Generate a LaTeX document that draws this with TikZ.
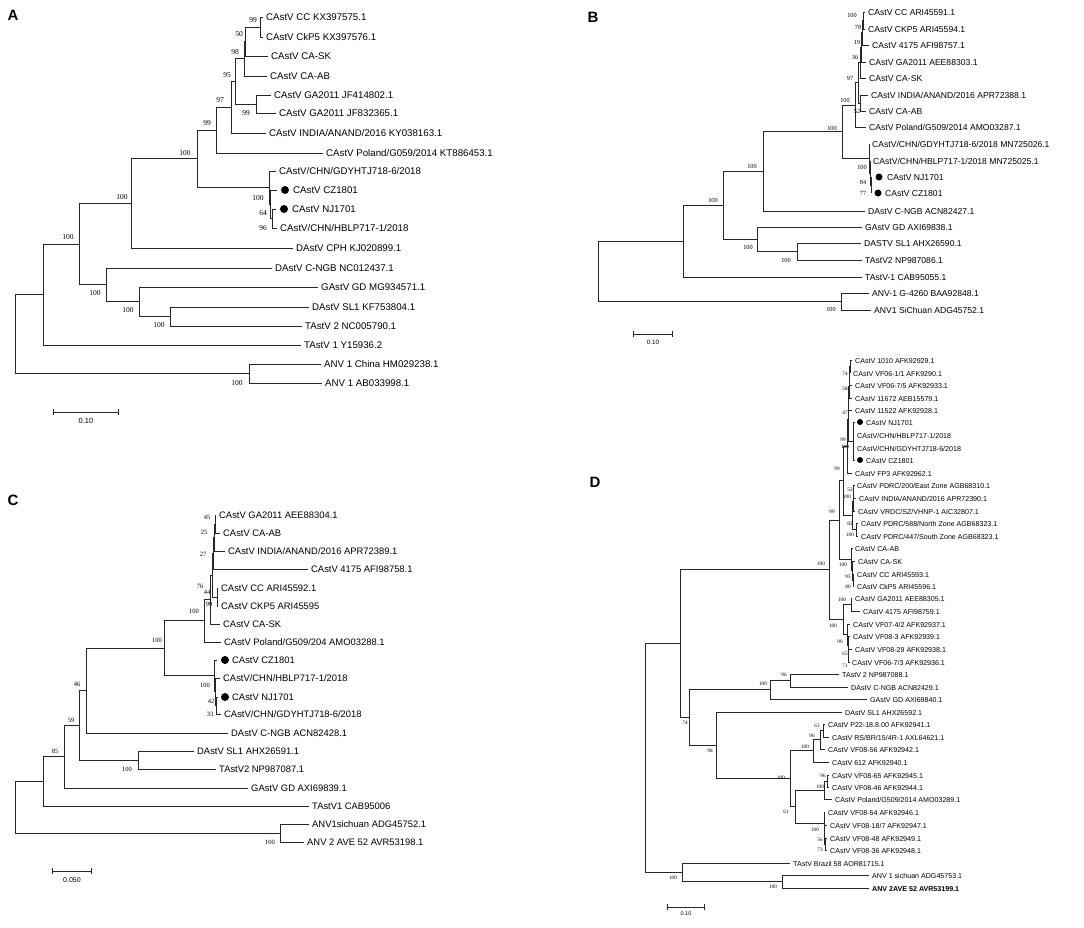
\documentclass[tikz,border=0pt]{standalone}
\usepackage{fontspec}
\setmainfont{Liberation Sans}
\newfontfamily\bsfont{Liberation Serif}
\usetikzlibrary{arrows.meta}

\tikzset{
  br/.style={draw=black!85, line width=1pt},
  nd/.style={inner sep=0pt, outer sep=0pt, minimum size=0pt},
  lf/.style={anchor=west, inner xsep=3pt, inner ysep=0pt, text height=1.4ex, text depth=0pt},
  lfA/.style={lf, font=\fontsize{9.7}{10}\selectfont},
  lfB/.style={lf, font=\fontsize{8.6}{9}\selectfont},
  lfC/.style={lf, font=\fontsize{9.4}{10}\selectfont},
  lfD/.style={lf, font=\fontsize{7.1}{8}\selectfont},
  bs/.style={inner sep=0pt, font=\bsfont\fontsize{#1}{#1}\selectfont},
  spot/.style={circle, fill=black, inner sep=0pt, minimum size=#1},
  panel/.style={inner sep=0pt, font=\fontsize{15}{15}\selectfont\bfseries},
  bar/.style={draw=black!85, line width=1pt, {Bar[width=6pt]}-{Bar[width=6pt]}},
  barlbl/.style={inner sep=0pt, font=\fontsize{#1}{#1}\selectfont}
}

\begin{document}
\begin{tikzpicture}[x=1pt, y=-1pt]
  \fill[white] (0,0) rectangle (1084,927);
  \useasboundingbox (0,0) rectangle (1084,927);

  % ---------- Panel A ----------
  \node[panel] (pA) at (13,15) {A};
  \foreach \n/\x/\y in {a99/260/27, a50/245/41.5, a98/244/58.8, aGA/256/104, a95/235/81.4,
      a97/231/107.2, a99b/216/130.1, a64/272/218.5, a100c/270/204.3, aCHN/269/187.6,
      a100/197/158.9, a131/131/203.4, aSL/170/316.5, aGD/139/301.8, aNGB/106/284.9,
      a79/79/244.1, a43/43/294.6, aANV/249/373.5, aroot/15/334}
    \node[nd] (\n) at (\x,\y) {};

  \node[lfA] (aCC) at (263,17) {CAstV CC KX397575.1};
  \node[lfA] (aCK) at (263,37) {CAstV CkP5 KX397576.1};
  \node[lfA] (aSK) at (268,56) {CAstV CA-SK};
  \node[lfA] (aAB) at (267,76) {CAstV CA-AB};
  \node[lfA] (aGA1) at (271,95) {CAstV GA2011 JF414802.1};
  \node[lfA] (aGA2) at (276,113) {CAstV GA2011 JF832365.1};
  \node[lfA] (aIN) at (266,133) {CAstV INDIA/ANAND/2016 KY038163.1};
  \node[lfA] (aPL) at (323,153) {CAstV Poland/G059/2014 KT886453.1};
  \node[lfA] (aGDY) at (276,171) {CAstV/CHN/GDYHTJ718-6/2018};
  \node[spot=8pt, outer sep=4pt] (aCZ) at (285,190) {};
  \node[lfA] (aCZt) at (290,190) {CAstV CZ1801};
  \node[spot=8pt, outer sep=4pt] (aNJ) at (284,209) {};
  \node[lfA] (aNJt) at (289,209) {CAstV NJ1701};
  \node[lfA] (aHB) at (277,228) {CAstV/CHN/HBLP717-1/2018};
  \node[lfA] (aCPH) at (293,248) {DAstV CPH KJ020899.1};
  \node[lfA] (aCNGB) at (272,268) {DAstV C-NGB NC012437.1};
  \node[lfA] (aGAstV) at (318,287) {GAstV GD MG934571.1};
  \node[lfA] (aSL1) at (309,307) {DAstV SL1 KF753804.1};
  \node[lfA] (aT2) at (302,326) {TAstV 2 NC005790.1};
  \node[lfA] (aT1) at (301,345) {TAstV 1 Y15936.2};
  \node[lfA] (aANV1) at (321,364) {ANV 1 China HM029238.1};
  \node[lfA] (aANV2) at (322,383) {ANV 1 AB033998.1};

  \foreach \p/\c in {a99/aCC, a99/aCK, a50/a99, a50/aSK, a98/a50, a98/aAB, aGA/aGA1, aGA/aGA2,
      a95/a98, a95/aGA, a97/a95, a97/aIN, a99b/a97, a99b/aPL, a64/aNJ, a64/aHB, a100c/aCZ,
      a100c/a64, aCHN/aGDY, aCHN/a100c, a100/a99b, a100/aCHN, a131/a100, a131/aCPH,
      aSL/aSL1, aSL/aT2, aGD/aGAstV, aGD/aSL, aNGB/aCNGB, aNGB/aGD, a79/a131, a79/aNGB,
      a43/a79, a43/aT1, aANV/aANV1, aANV/aANV2, aroot/a43, aroot/aANV}
    \draw[br] (\p) |- (\c.west);

  \foreach \x/\y/\t [count=\i] in {253/20/99, 239/34/50, 235/52/98, 227/75/95, 220/100/97,
      246/113/99, 207/123/99, 185/153/100, 258/198/100, 263/213/64, 263/228/96, 122/197/100,
      68/237/100, 95/293/100, 128/310/100, 159/325/100, 237/383/100}
    \node[bs=7.5] (bsA\i) at (\x,\y) {\t};

  \coordinate (sA1) at (53,412);
  \coordinate (sA2) at (119,412);
  \draw[bar] (sA1) -- (sA2);
  \node[barlbl=7.5] (sAt) at (86,421) {0.10};

  % ---------- Panel B ----------
  \node[panel] (pB) at (593,17) {B};
  \foreach \n/\x/\y in {bn1/863/20.5, bn2/862/32.8, bn3/861/47.4, bn4/860/62.7, bn5/860/103,
      bn6/858/82.9, bn7/855/105, bn84/871/185, bnH/870/173, bnC/869/158.5, bn8/842/131.8,
      bn9/763/171.4, bSL/797/251.5, bGD/757/239.3, bn10/723/205.3, bn11/683/241.2,
      bANV/841/301.5, broot/598/271.3}
    \node[nd] (\n) at (\x,\y) {};

  \node[lfB] (bCC) at (865,12) {CAstV CC ARI45591.1};
  \node[lfB] (bCK) at (865,29) {CAstV CKP5 ARI45594.1};
  \node[lfB] (b4175) at (869,45) {CAstV 4175 AFI98757.1};
  \node[lfB] (bGA) at (866,62) {CAstV GA2011 AEE88303.1};
  \node[lfB] (bSK) at (866,78) {CAstV CA-SK};
  \node[lfB] (bIN) at (868,95) {CAstV INDIA/ANAND/2016 APR72388.1};
  \node[lfB] (bAB) at (866,111) {CAstV CA-AB};
  \node[lfB] (bPL) at (866,127) {CAstV Poland/G509/2014 AMO03287.1};
  \node[lfB] (bGDY) at (869,144) {CAstV/CHN/GDYHTJ718-6/2018 MN725026.1};
  \node[lfB] (bHB) at (870,161) {CAstV/CHN/HBLP717-1/2018 MN725025.1};
  \node[spot=7pt, outer sep=3.5pt] (bNJ) at (879,177) {};
  \node[lfB] (bNJt) at (884,177) {CAstV NJ1701};
  \node[spot=7pt, outer sep=3.5pt] (bCZ) at (878,193) {};
  \node[lfB] (bCZt) at (882,193) {CAstV CZ1801};
  \node[lfB] (bNGB) at (865,211) {DAstV C-NGB ACN82427.1};
  \node[lfB] (bGAstV) at (862,227) {GAstV GD AXI69838.1};
  \node[lfB] (bSL1) at (861,243) {DASTV SL1 AHX26590.1};
  \node[lfB] (bT2) at (862,260) {TAstV2 NP987086.1};
  \node[lfB] (bT1) at (862,277) {TAstV-1 CAB95055.1};
  \node[lfB] (bANV1) at (869,293) {ANV-1 G-4260 BAA92848.1};
  \node[lfB] (bANV2) at (871,310) {ANV1 SiChuan ADG45752.1};

  \foreach \p/\c in {bn1/bCC, bn1/bCK, bn2/bn1, bn2/b4175, bn3/bn2, bn3/bGA, bn4/bn3, bn4/bSK,
      bn5/bIN, bn5/bAB, bn6/bn4, bn6/bn5, bn7/bn6, bn7/bPL, bn84/bNJ, bn84/bCZ, bnH/bHB,
      bnH/bn84, bnC/bGDY, bnC/bnH, bn8/bn7, bn8/bnC, bn9/bn8, bn9/bNGB, bSL/bSL1, bSL/bT2,
      bGD/bGAstV, bGD/bSL, bn10/bn9, bn10/bGD, bn11/bn10, bn11/bT1, bANV/bANV1, bANV/bANV2,
      broot/bn11, broot/bANV}
    \draw[br] (\p) |- (\c.west);

  \foreach \x/\y/\t [count=\i] in {852/15/100, 858/27/78, 857/42/19, 855/57/36, 850/78/97,
      845/100/100, 857/111/52, 832/128/100, 862/167/100, 863/182/84, 863/193/77, 752/166/100,
      713/200/100, 748/247/100, 786/260/100, 831/309/100}
    \node[bs=6.3] (bsB\i) at (\x,\y) {\t};

  \coordinate (sB1) at (633,334);
  \coordinate (sB2) at (673,334);
  \draw[bar] (sB1) -- (sB2);
  \node[barlbl=6.3] (sBt) at (653,342) {0.10};

  % ---------- Panel C ----------
  \node[panel] (pC) at (13,500) {C};
  \foreach \n/\x/\y in {c45/215/524, c25/214/537.5, c27/213/553.3, c99/217/597, c44/212/575.1,
      c76/210/599.6, c100a/204/620.8, c33/216.5/705.5, c42/215.5/691.8, c100b/214/675.9,
      c100c/164/648.3, c86/86/690.7, cSL/138/760, c79/79/725.3, c64/64/756.7, c43/43/781.3,
      cANV/280/833, croot/15/807.2}
    \node[nd] (\n) at (\x,\y) {};

  \node[lfC] (cGA) at (216,515) {CAstV GA2011 AEE88304.1};
  \node[lfC] (cAB) at (220,533) {CAstV CA-AB};
  \node[lfC] (cIN) at (225,551) {CAstV INDIA/ANAND/2016 APR72389.1};
  \node[lfC] (c4175) at (308,569) {CAstV 4175 AFI98758.1};
  \node[lfC] (cCC) at (218,588) {CAstV CC ARI45592.1};
  \node[lfC] (cCK) at (218,606) {CAstV CKP5 ARI45595};
  \node[lfC] (cSK) at (220,624) {CAstV CA-SK};
  \node[lfC] (cPL) at (221,642) {CAstV Poland/G509/204 AMO03288.1};
  \node[spot=8pt, outer sep=4pt] (cCZ) at (225,660) {};
  \node[lfC] (cCZt) at (229,660) {CAstV CZ1801};
  \node[lfC] (cHB) at (220,678) {CAstV/CHN/HBLP717-1/2018};
  \node[spot=8pt, outer sep=4pt] (cNJ) at (225,697) {};
  \node[lfC] (cNJt) at (229,697) {CAstV NJ1701};
  \node[lfC] (cGDY) at (221,714) {CAstV/CHN/GDYHTJ718-6/2018};
  \node[lfC] (cNGB) at (228,733) {DAstV C-NGB ACN82428.1};
  \node[lfC] (cSL1) at (194,751) {DAstV SL1 AHX26591.1};
  \node[lfC] (cT2) at (216,769) {TAstV2 NP987087.1};
  \node[lfC] (cGD) at (248,788) {GAstV GD AXI69839.1};
  \node[lfC] (cT1) at (309,806) {TAstV1 CAB95006};
  \node[lfC] (cANV1) at (309,824) {ANV1sichuan ADG45752.1};
  \node[lfC] (cANV2) at (304,842) {ANV 2 AVE 52 AVR53198.1};

  \foreach \p/\c in {c45/cGA, c45/cAB, c25/c45, c25/cIN, c27/c25, c27/c4175, c99/cCC, c99/cCK,
      c44/c27, c44/c99, c76/c44, c76/cSK, c100a/c76, c100a/cPL, c33/cNJ, c33/cGDY, c42/cHB,
      c42/c33, c100b/cCZ, c100b/c42, c100c/c100a, c100c/c100b, c86/c100c, c86/cNGB,
      cSL/cSL1, cSL/cT2, c79/c86, c79/cSL, c64/c79, c64/cGD, c43/c64, c43/cT1,
      cANV/cANV1, cANV/cANV2, croot/c43, croot/cANV}
    \draw[br] (\p) |- (\c.west);

  \foreach \x/\y/\t [count=\i] in {207/517/45, 204/532/25, 203/554/27, 200/586/76, 207/592/44,
      209/604/99, 194/611/100, 157/640/100, 205/685/100, 211/701/42, 210/714/33, 77/684/46,
      71/720/59, 55/751/85, 127/769/100, 270/842/100}
    \node[bs=6.5] (bsC\i) at (\x,\y) {\t};

  \coordinate (sC1) at (52,871);
  \coordinate (sC2) at (92,871);
  \draw[bar] (sC1) -- (sC2);
  \node[barlbl=7] (sCt) at (72,880) {0.050};

  % ---------- Panel D ----------
  \node[panel] (pD) at (595,482) {D};
  \foreach \n/\x/\y in {dU74/850/366.5, dU58/849.5/375.8, dU58b/849/386.9, dU47/848.5/398.4,
      dUchn/853/441, dU99/848/419.7, dU100/847/446.4, dP52/853.5/491.5, dP100/853/501.3,
      dP82/856/529.5, dPP/852/515.4, dUP/843/480.9, dC80/853/580, dC95/852.5/570.5,
      dC100/851.5/559.3, dN1/839/520.1, dNga/851/604.5, dN71/848.5/655.5, dN65/848/645.8,
      dN99/847.5/634.9, dN2/843/619.7, dM/829/569.9, dN96/790/680.5, dN100g/770/689.8,
      dQ63/823/730.5, dQ96/820/739.8, dQ100/813/750.9, dR96/827/781, dR100/824/790,
      dS73/825/844, dS56/824.5/834.5, dS100/824/823.3, dV6/795/806.6, dX/790/778.8,
      dV4/716/745.4, dV3/689/717.6, dV2/680/643.8, dV8/782/881.5, dV7/682/872.3, droot/645/758}
    \node[nd] (\n) at (\x,\y) {};

  \node[lfD] (d1010) at (852,360) {CAstV 1010 AFK92929.1};
  \node[lfD] (dVF11) at (850,373) {CAstV VF06-1/1 AFK9290.1};
  \node[lfD] (dVF75) at (852,385) {CAstV VF06-7/5 AFK92933.1};
  \node[lfD] (d11672) at (852,398) {CAstV 11672 AEB15579.1};
  \node[lfD] (d11522) at (852,410) {CAstV 11522 AFK92928.1};
  \node[spot=6pt, outer sep=2.5pt] (dNJ) at (860,422) {};
  \node[lfD] (dNJt) at (863,422) {CAstV NJ1701};
  \node[lfD] (dHB) at (854,435) {CAstV/CHN/HBLP717-1/2018};
  \node[lfD] (dGDY) at (854,448) {CAstV/CHN/GDYHTJ718-6/2018};
  \node[spot=6pt, outer sep=2.5pt] (dCZ) at (860,460) {};
  \node[lfD] (dCZt) at (863,460) {CAstV CZ1801};
  \node[lfD] (dFP3) at (852,473) {CAstV FP3 AFK92962.1};
  \node[lfD] (dP200) at (854,485) {CAstV PDRC/200/East Zone AGB68310.1};
  \node[lfD] (dIN) at (856,498) {CAstV INDIA/ANAND/2016 APR72390.1};
  \node[lfD] (dVR) at (855,511) {CAstV VRDC/SZ/VHNP-1 AIC32807.1};
  \node[lfD] (dP588) at (858,523) {CAstV PDRC/588/North Zone AGB68323.1};
  \node[lfD] (dP447) at (858,536) {CAstV PDRC/447/South Zone AGB68323.1};
  \node[lfD] (dAB) at (852,548) {CAstV CA-AB};
  \node[lfD] (dSK) at (855,561) {CAstV CA-SK};
  \node[lfD] (dCC) at (854,574) {CAstV CC ARI45593.1};
  \node[lfD] (dCK) at (854,586) {CAstV CkP5 ARI45596.1};
  \node[lfD] (dGA) at (852,598) {CAstV GA2011 AEE88305.1};
  \node[lfD] (d4175) at (860,611) {CAstV 4175 AFI98759.1};
  \node[lfD] (dVF742) at (850,624) {CAstV VF07-4/2 AFK92937.1};
  \node[lfD] (dVF83) at (850,636) {CAstV VF08-3 AFK92939.1};
  \node[lfD] (dVF829) at (852,649) {CAstV VF08-29 AFK92938.1};
  \node[lfD] (dVF73) at (849,662) {CAstV VF06-7/3 AFK92936.1};
  \node[lfD] (dT2) at (839,674) {TAstV 2 NP987088.1};
  \node[lfD] (dNGB) at (848,687) {DAstV C-NGB ACN82429.1};
  \node[lfD] (dGD) at (867,699) {GAstV GD AXI69840.1};
  \node[lfD] (dSL1) at (842,712) {DAstV SL1 AHX26592.1};
  \node[lfD] (dP22) at (825,724) {CAstV P22-18.8.00 AFK92941.1};
  \node[lfD] (dRS) at (829,737) {CAstV RS/BR/15/4R-1 AXL64621.1};
  \node[lfD] (dVF856) at (825,749) {CAstV VF08-56 AFK92942.1};
  \node[lfD] (d612) at (829,762) {CAstV 612 AFK92940.1};
  \node[lfD] (dVF865) at (829,775) {CAstV VF08-65 AFK92945.1};
  \node[lfD] (dVF846) at (829,787) {CAstV VF08-46 AFK92944.1};
  \node[lfD] (dPL) at (832,799) {CAstV Poland/G509/2014 AMO03289.1};
  \node[lfD] (dVF854) at (825,812) {CAstV VF08-54 AFK92946.1};
  \node[lfD] (dVF187) at (827,825) {CAstV VF08-18/7 AFK92947.1};
  \node[lfD] (dVF848) at (827,838) {CAstV VF08-48 AFK92949.1};
  \node[lfD] (dVF836) at (827,850) {CAstV VF08-36 AFK92948.1};
  \node[lfD] (dTB) at (790,863) {TAstV Brazil 58 AOR81715.1};
  \node[lfD] (dANV1) at (869,875) {ANV 1 sichuan ADG45753.1};
  \node[lfD, font=\fontsize{7.1}{8}\selectfont\bfseries] (dANV2) at (869,888) {ANV 2AVE 52 AVR53199.1};

  \foreach \p/\c in {dU74/d1010, dU74/dVF11, dU58/dU74, dU58/dVF75, dU58b/dU58, dU58b/d11672,
      dU47/dU58b, dU47/d11522, dUchn/dNJ, dUchn/dHB, dUchn/dGDY, dUchn/dCZ, dU99/dU47,
      dU99/dUchn, dU100/dU99, dU100/dFP3, dP52/dP200, dP52/dIN, dP100/dP52, dP100/dVR,
      dP82/dP588, dP82/dP447, dPP/dP100, dPP/dP82, dUP/dU100, dUP/dPP, dC80/dCC, dC80/dCK,
      dC95/dSK, dC95/dC80, dC100/dAB, dC100/dC95, dN1/dUP, dN1/dC100, dNga/dGA, dNga/d4175,
      dN71/dVF829, dN71/dVF73, dN65/dVF83, dN65/dN71, dN99/dVF742, dN99/dN65, dN2/dNga,
      dN2/dN99, dM/dN1, dM/dN2, dN96/dT2, dN96/dNGB, dN100g/dN96, dN100g/dGD, dQ63/dP22,
      dQ63/dRS, dQ96/dQ63, dQ96/dVF856, dQ100/dQ96, dQ100/d612, dR96/dVF865, dR96/dVF846,
      dR100/dR96, dR100/dPL, dS73/dVF848, dS73/dVF836, dS56/dVF187, dS56/dS73, dS100/dVF854,
      dS100/dS56, dV6/dR100, dV6/dS100, dX/dQ100, dX/dV6, dV4/dSL1, dV4/dX, dV3/dN100g,
      dV3/dV4, dV2/dM, dV2/dV3, dV8/dANV1, dV8/dANV2, dV7/dTB, dV7/dV8, droot/dV2, droot/dV7}
    \draw[br] (\p) |- (\c.west);

  \foreach \x/\y/\t [count=\i] in {845/374/74, 845/389/58, 845/413/47, 843/440/99, 845/447/100,
      837/469/99, 850/490/52, 847/497/100, 832/512/99, 850/524/82, 850/535/100, 821/564/100,
      843/565/100, 848/577/95, 848/587/80, 842/600/100, 833/626/100, 840/642/99, 845/654/65,
      845/666/71, 784/675/96, 763/684/100, 685/723/74, 710/751/98, 817/726/63, 812/736/96,
      805/747/100, 781/778/100, 823/776/96, 820/787/100, 786/812/61, 815/830/100, 820/840/56,
      820/850/73, 673/878/100, 773/887/100}
    \node[bs=5.2] (bsD\i) at (\x,\y) {\t};

  \coordinate (sD1) at (667,907);
  \coordinate (sD2) at (705,907);
  \draw[bar] (sD1) -- (sD2);
  \node[barlbl=5.5] (sDt) at (686,914) {0.10};
\end{tikzpicture}
\end{document}
